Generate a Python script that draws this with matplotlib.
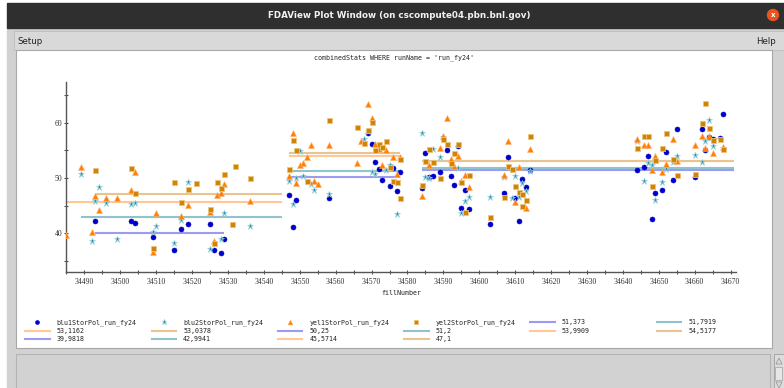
import matplotlib.pyplot as plt
from matplotlib.patches import Rectangle, Circle, Polygon
from matplotlib.lines import Line2D

#-----------------------------------------------------------------------
# Polarization per fill, run fy24
#-----------------------------------------------------------------------
blu1_fill = [34493, 34503, 34504, 34509, 34515, 34517, 34519, 34525, 34526, 34528, 34529,
             34547, 34548, 34549, 34558, 34569, 34570, 34571, 34572, 34573, 34575, 34576, 34577, 34578,
             34584, 34585, 34586, 34587, 34589, 34591, 34592, 34593, 34594, 34595, 34596, 34597,
             34603, 34607, 34608, 34610, 34611, 34612, 34613, 34614,
             34644, 34646, 34647, 34648, 34649, 34651, 34652, 34654, 34655, 34660, 34662, 34663,
             34664, 34665, 34667, 34668]
blu1_pol = [42.2, 42.2, 41.9, 39.3, 37.0, 40.7, 41.6, 41.6, 36.9, 36.5, 39.0,
            47.0, 41.1, 46.1, 46.3, 58.1, 56.1, 52.9, 51.6, 49.6, 48.5, 51.8, 47.6, 51.1,
            48.2, 54.6, 50.2, 50.4, 51.1, 55.0, 50.4, 48.8, 55.8, 44.6, 47.9, 44.3,
            41.7, 47.2, 53.7, 46.4, 42.2, 49.8, 48.4, 51.5,
            51.4, 52.0, 53.9, 42.6, 47.2, 47.9, 54.7, 49.6, 58.9, 50.2, 58.9, 55.0,
            57.4, 57.0, 57.3, 61.6]

blu2_fill = [34489, 34492, 34493, 34494, 34496, 34499, 34503, 34504, 34509, 34510, 34515, 34517,
             34519, 34525, 34528, 34529, 34536,
             34547, 34548, 34549, 34550, 34551, 34553, 34554, 34558, 34568, 34569, 34570, 34571,
             34574, 34575, 34577, 34578,
             34584, 34585, 34586, 34587, 34589, 34590, 34594, 34595, 34596, 34597, 34603, 34607,
             34609, 34610, 34611, 34612, 34613, 34614,
             34644, 34646, 34647, 34648, 34649, 34651, 34652, 34654, 34655, 34660, 34662, 34663,
             34664, 34665, 34668]
blu2_pol = [50.8, 38.6, 45.8, 48.3, 45.4, 38.9, 45.3, 45.4, 40.2, 41.4, 38.2, 42.4,
            49.3, 37.2, 39.0, 43.7, 41.4,
            49.4, 45.2, 49.9, 54.9, 50.4, 48.9, 47.8, 47.1, 57.1, 58.4, 51.1, 50.8,
            51.4, 52.3, 43.5, 53.5,
            58.2, 50.2, 49.9, 55.2, 53.7, 57.4, 51.8, 43.7, 45.9, 46.6, 46.5, 50.1,
            46.3, 50.4, 46.5, 49.1, 47.6, 51.3,
            56.7, 49.5, 52.7, 52.3, 46.0, 49.3, 51.6, 52.9, 54.0, 54.2, 52.9, 56.7,
            60.4, 55.8, 55.5]

yel1_fill = [34485, 34489, 34492, 34493, 34494, 34496, 34499, 34503, 34504, 34509, 34510, 34517,
             34519, 34525, 34526, 34527, 34528, 34529, 34536,
             34547, 34548, 34549, 34550, 34551, 34552, 34553, 34554, 34555, 34558, 34566, 34567,
             34569, 34570, 34571, 34572, 34573, 34574, 34576, 34577, 34578,
             34584, 34586, 34589, 34590, 34591, 34592, 34593, 34594, 34595, 34596, 34597, 34607,
             34608, 34610, 34611, 34613, 34614,
             34644, 34646, 34647, 34648, 34649, 34651, 34652, 34654, 34655, 34660, 34662, 34663,
             34664, 34665, 34668]
yel1_pol = [39.6, 52.0, 40.2, 46.7, 44.2, 46.4, 46.4, 47.8, 51.1, 36.7, 43.7, 43.2,
            45.1, 43.8, 38.6, 47.0, 47.3, 48.9, 45.8,
            50.3, 58.2, 49.1, 52.4, 52.7, 53.7, 56.0, 49.5, 48.9, 56.0, 52.7, 56.6,
            63.4, 60.9, 56.2, 55.3, 52.4, 55.0, 53.7, 50.8, 53.7,
            46.7, 52.3, 55.4, 57.5, 60.8, 53.4, 52.2, 54.0, 49.5, 50.5, 48.4, 50.5,
            56.6, 45.7, 51.9, 44.5, 55.2,
            57.1, 56.0, 56.0, 51.4, 53.9, 51.1, 52.5, 57.0, 53.0, 56.0, 57.5, 55.5,
            57.6, 54.5, 55.6]

yel2_fill = [34493, 34503, 34504, 34509, 34515, 34517, 34519, 34521, 34525, 34526, 34527, 34528,
             34529, 34531, 34532, 34536,
             34547, 34548, 34549, 34552, 34558, 34566, 34568, 34569, 34570, 34571, 34572, 34573,
             34574, 34575, 34576, 34577, 34578, 34578,
             34584, 34585, 34586, 34587, 34589, 34590, 34591, 34592, 34593, 34594, 34595, 34596,
             34597, 34603, 34607, 34608, 34609, 34610, 34611, 34612, 34612, 34613, 34614,
             34644, 34646, 34647, 34648, 34649, 34651, 34652, 34654, 34655, 34660, 34662, 34663,
             34664, 34665, 34667, 34668]
yel2_pol = [51.5, 51.8, 47.2, 37.3, 49.2, 45.7, 48.0, 49.1, 44.4, 38.2, 49.2, 48.2,
            50.7, 41.7, 52.1, 50.0,
            51.6, 56.9, 55.1, 49.5, 60.4, 59.3, 56.3, 58.6, 60.1, 55.0, 56.1, 55.6,
            56.6, 52.0, 49.4, 49.2, 53.4, 46.4,
            48.7, 53.1, 55.2, 52.9, 50.0, 57.0, 56.1, 52.7, 54.5, 56.1, 49.2, 43.9,
            50.5, 42.9, 46.6, 52.1, 51.6, 48.6, 47.4, 47.1, 44.9, 46.1, 57.6,
            55.4, 57.5, 57.5, 48.6, 53.3, 55.5, 58.2, 53.5, 50.5, 50.7, 59.9, 63.5,
            59.0, 56.8, 57.0, 55.2]

series_names = ['blu1StorPol_run_fy24', 'blu2StorPol_run_fy24',
                'yel1StorPol_run_fy24', 'yel2StorPol_run_fy24']

# store averages: blu1, blu2, yel1, yel2 for each store (latest first)
mean_vals = [51.373, 51.7919, 53.1162, 53.0378,
             50.25, 51.2, 53.9909, 54.5177,
             39.9818, 42.9941, 45.5714, 47.1]
mean_start = [34584, 34584, 34584, 34584,
              34547, 34547, 34547, 34547,
              34493, 34489, 34485, 34493]
mean_end = [34671, 34671, 34671, 34671,
            34578, 34578, 34578, 34578,
            34529, 34545, 34545, 34545]

#-----------------------------------------------------------------------
# Styles
#-----------------------------------------------------------------------
marker_style = [
    dict(marker='o', ms=3.6, color='#0000cd', mec='#0000cd', mew=0.4),
    dict(marker='*', ms=4.6, color='#2b8ea6', mec='#9fd3dd', mew=0.5),
    dict(marker='^', ms=4.4, color='#ff8000', mec='#ffb070', mew=0.4),
    dict(marker='s', ms=3.6, color='#cf8407', mec='#ecc47a', mew=0.6),
]
mean_colors = ['#9b9bf2', '#8fc3cf', '#ffc896', '#eac48e']

W, H = 784, 388
fig = plt.figure(figsize=(W / 100, H / 100), dpi=100)
fig.patch.set_facecolor('white')

# window frame drawn in pixel units
bg = fig.add_axes([0, 0, 1, 1])
bg.set_xlim(0, W)
bg.set_ylim(H, 0)
bg.axis('off')

bg.add_patch(Rectangle((7, 27), W - 7, H - 27, color='#d2d2d2', zorder=0))
bg.add_patch(Rectangle((7, 3), W - 7, 24.5, color='#2f2f2f', zorder=1))
bg.text(399, 15, 'FDAView Plot Window (on cscompute04.pbn.bnl.gov)', color='#f2f2f2',
        fontsize=6.3, fontweight='bold', ha='center', va='center')
bg.add_patch(Circle((773, 15), 5.5, color='#e95420', zorder=2))
bg.text(773, 15.3, 'x', color='white', fontsize=5, fontweight='bold',
        ha='center', va='center', zorder=3)

# menu bar
bg.add_patch(Rectangle((14, 31), W - 14, 19, facecolor='#d9d9d9',
                       edgecolor='#bdbdbd', lw=0.6, zorder=1))
bg.text(17, 41, 'Setup', color='#222222', fontsize=6.2, va='center', ha='left')
bg.text(776, 41, 'Help', color='#222222', fontsize=6.2, va='center', ha='right')

# plot panel
bg.add_patch(Rectangle((16.5, 50), 756, 298, facecolor='white',
                       edgecolor='#a8a8a8', lw=0.8, zorder=1))
bg.text(394.5, 58, "combinedStats WHERE runName = 'run_fy24'", color='#222222',
        fontsize=4.8, family='DejaVu Sans Mono', ha='center', va='center')

# status area and scroll bar
bg.add_patch(Rectangle((16.5, 354), 753.5, 40, facecolor='#d2d2d2',
                       edgecolor='#b4b4b4', lw=0.8, zorder=1))
bg.add_patch(Rectangle((774, 354), 10, 40, facecolor='#dcdcdc',
                       edgecolor='#a0a0a0', lw=0.6, zorder=1))
bg.add_patch(Rectangle((775.5, 367), 7, 13, facecolor='#e6e6e6',
                       edgecolor='#a0a0a0', lw=0.5, zorder=2))
bg.add_patch(Polygon([[776, 364], [782, 364], [779, 358]], closed=True,
                     facecolor='none', edgecolor='#909090', lw=0.5, zorder=2))
bg.add_patch(Polygon([[776, 382], [782, 382], [779, 388]], closed=True,
                     facecolor='none', edgecolor='#909090', lw=0.5, zorder=2))

#-----------------------------------------------------------------------
# Scatter plot
#-----------------------------------------------------------------------
ax = fig.add_axes([65.7 / W, 1 - 271.7 / H, (736 - 65.7) / W, (271.7 - 81.7) / H])
ax.set_facecolor('none')

for i in range(len(mean_vals)):
    ax.plot([mean_start[i], mean_end[i]], [mean_vals[i], mean_vals[i]],
            color=mean_colors[i % 4], lw=1.5, solid_capstyle='butt', zorder=1)

all_fill = [blu1_fill, blu2_fill, yel1_fill, yel2_fill]
all_pol = [blu1_pol, blu2_pol, yel1_pol, yel2_pol]
for f, p, st in zip(all_fill, all_pol, marker_style):
    ax.plot(f, p, ls='none', zorder=3, **st)

ax.set_xlim(34484.8, 34671.5)
ax.set_ylim(33.05, 67.4)
ax.set_xticks(range(34490, 34671, 10))
ax.set_xticks(range(34485, 34671, 5), minor=True)
ax.set_yticks([40, 50, 60])
ax.set_yticks([35, 45, 55, 65], minor=True)

for s in ['top', 'right']:
    ax.spines[s].set_visible(False)
for s in ['left', 'bottom']:
    ax.spines[s].set_color('#555555')
    ax.spines[s].set_linewidth(1.0)

ax.tick_params(which='both', direction='inout', length=3, width=0.8, color='#555555')
ax.tick_params(axis='x', pad=3)
ax.tick_params(axis='y', pad=1)
for lab in ax.get_xticklabels() + ax.get_yticklabels():
    lab.set_fontfamily('Liberation Serif')
    lab.set_fontsize(5.6)
    lab.set_color('#333333')

ax.set_xlabel('fillNumber', fontsize=4.8, family='DejaVu Sans Mono',
              color='#222222', labelpad=3)

#-----------------------------------------------------------------------
# Legend: 6 columns, filled row by row
#-----------------------------------------------------------------------
entries = []
for i in range(4):
    entries.append(('marker', i, series_names[i]))
for i in range(len(mean_vals)):
    entries.append(('line', i, ('%g' % mean_vals[i]).replace('.', ',')))

for k, (kind, i, label) in enumerate(entries):
    col = k % 6
    row = k // 6
    x0 = 25.3 + 126.3 * col
    y0 = 322.3 + 8.3 * row
    if kind == 'marker':
        st = dict(marker_style[i])
        st['ms'] = st['ms'] * 0.8
        bg.add_line(Line2D([x0 + 12], [y0], ls='none', **st))
    else:
        bg.add_line(Line2D([x0, x0 + 24.5], [y0, y0], color=mean_colors[i % 4], lw=1.5))
    bg.text(x0 + 31.5, y0, label, fontsize=4.8, family='DejaVu Sans Mono',
            color='#222222', ha='left', va='center')

fig.savefig('out.png', dpi=100, facecolor=fig.get_facecolor())
